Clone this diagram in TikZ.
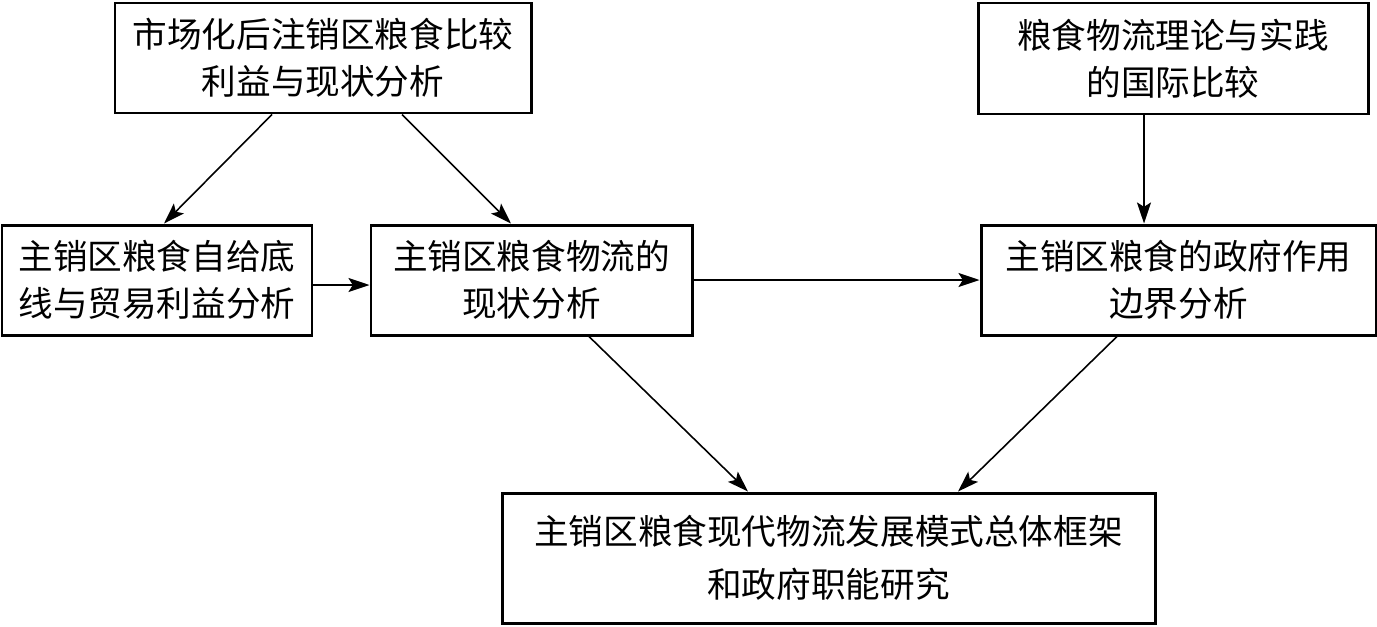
\documentclass[tikz,border=0pt]{standalone}
\usepackage{fontspec}
\newfontfamily\cjk{Noto Sans CJK SC}
\usepackage{tikz}
\usetikzlibrary{arrows.meta,calc,positioning}

\tikzset{
  kuang/.style={draw,line width=1.7pt,align=center,inner sep=0pt,
                font=\cjk\fontsize{19.7}{27}\selectfont},
  jiantou/.style={-{Stealth[length=12pt,width=8pt,inset=2.5pt]},line width=.9pt}
}

\begin{document}
\begin{tikzpicture}[line join=miter]
  \useasboundingbox (0,0) rectangle (27.54,-12.52);
  % 上层两个研究基础
  \node[kuang,minimum width=8.32cm,minimum height=2.2cm] (shichang)
       at (6.46,-1.16) {市场化后注销区粮食比较\\利益与现状分析};
  \node[kuang,minimum width=7.8cm,minimum height=2.22cm] (guoji)
       at (23.46,-1.17) {粮食物流理论与实践\\的国际比较};
  % 中层三个分析
  \node[kuang,minimum width=6.2cm,minimum height=2.2cm] (zigei)
       at (3.14,-5.6) {主销区粮食自给底\\线与贸易利益分析};
  \node[kuang,minimum width=6.42cm,minimum height=2.2cm] (xianzhuang)
       at (10.63,-5.6) {主销区粮食物流的\\现状分析};
  \node[kuang,minimum width=7.9cm,minimum height=2.2cm] (zhengfu)
       at (23.57,-5.6) {主销区粮食的政府作用\\边界分析};
  % 总体框架
  \node[kuang,minimum width=13.06cm,minimum height=2.6cm,
        font=\cjk\fontsize{19.7}{30.5}\selectfont] (kuangjia)
       at (16.57,-11.16) {主销区粮食现代物流发展模式总体框架\\和政府职能研究};

  \draw[jiantou] ([xshift=-1.02cm]shichang.south) -- ([xshift=.14cm]zigei.north);
  \draw[jiantou] ([xshift=1.58cm]shichang.south) -- ([xshift=-.41cm]xianzhuang.north);
  \draw[jiantou] ([xshift=-.58cm]guoji.south)
       -- ([xshift=-.58cm]guoji.south |- zhengfu.north);
  \draw[jiantou] ([yshift=-.1cm]zigei.east)
       -- ([yshift=-.1cm]zigei.east -| xianzhuang.west);
  \draw[jiantou] (xianzhuang.east) -- (xianzhuang.east -| zhengfu.west);
  \draw[jiantou] ([xshift=1.15cm]xianzhuang.south) -- ([xshift=-1.61cm]kuangjia.north);
  \draw[jiantou] ([xshift=-1.23cm]zhengfu.south) -- ([xshift=2.59cm]kuangjia.north);
\end{tikzpicture}
\end{document}
